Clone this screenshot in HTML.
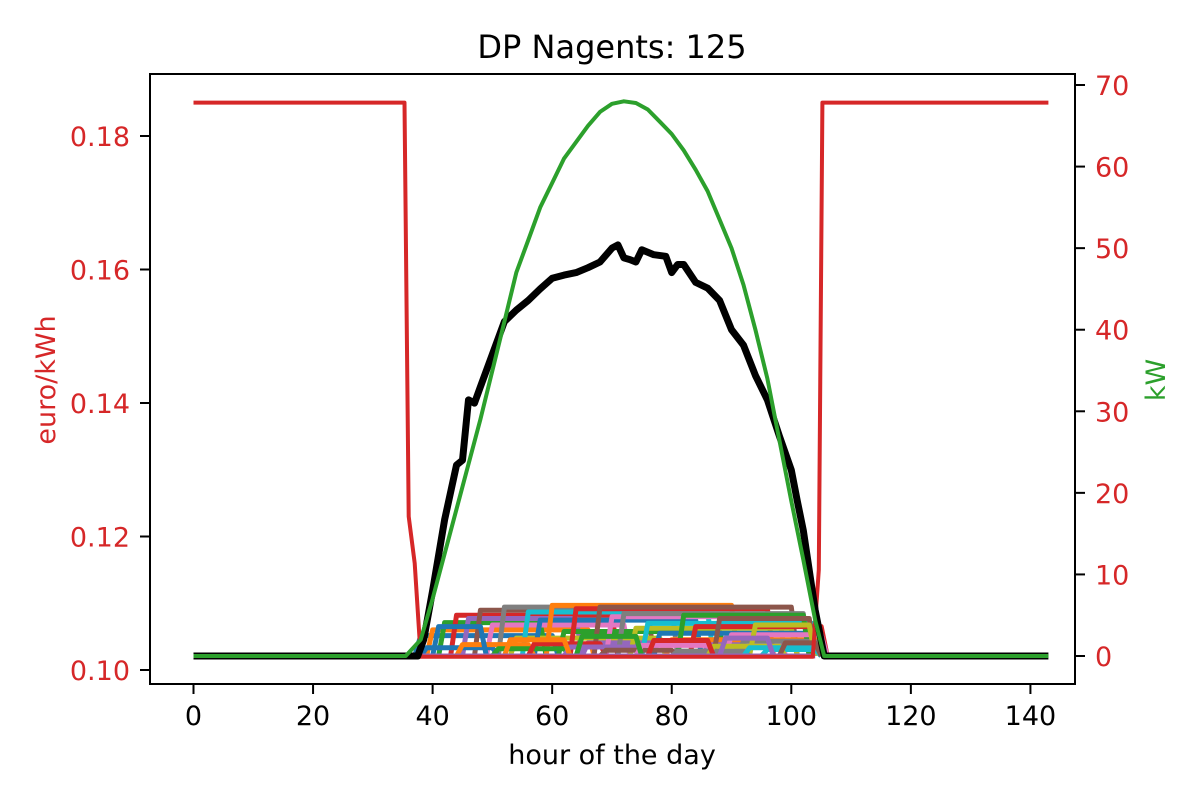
<!DOCTYPE html>
<html><head><meta charset="utf-8"><style>
body{margin:0;background:#fff}
svg text{font-family:"DejaVu Sans","Liberation Sans",sans-serif}
</style></head><body>
<svg id="c" width="1200" height="800" xmlns="http://www.w3.org/2000/svg">
<rect width="1200" height="800" fill="#fff"/>
<g id="plot"></g>
<g id="axes"></g>
<text x="612" y="58" font-size="32" text-anchor="middle">DP Nagents: 125</text>
<text x="612" y="764" font-size="27" text-anchor="middle">hour of the day</text>
<text transform="translate(55,380) rotate(-90)" font-size="27" text-anchor="middle" fill="#d62728">euro/kWh</text>
<text transform="translate(1165,380) rotate(-90)" font-size="27" text-anchor="middle" fill="#2ca02c">kW</text>
</svg>
<script>
const xTicks=[0,20,40,60,80,100,120,140];
const leftTicks=[0.10,0.12,0.14,0.16,0.18];
const rightTicks=[0,10,20,30,40,50,60,70];
const priceIdx=[0,35.3,36,37,38,103.6,104.6,105.2,143];
const priceVal=[0.185,0.185,0.123,0.116,0.102,0.102,0.115,0.185,0.185];
const genIdx=[0,35.5,38,40,44,48,50,52,54,56,58,60,62,64,66,68,70,72,74,76,78,80,82,84,86,88,90,92,94,96,98,100,102,104,105.5,143];
const genVal=[0,0,2,7,18,29,35,41,47,51,55,58,61,63,65,66.7,67.7,68,67.8,67,65.5,64,62,59.6,57,53.5,50,45.5,40,34,26.5,19,11.8,4.4,0,0];
const loadIdx=[0,37.5,38.5,40,42,44,45,46,47,48,50,52,54,56,58,60,62,64,66,68,70,71,72,73,74,75,77,79,80,81,82,84,86,88,90,92,94,96,98,100,101,102,104,105.5,143];
const loadVal=[0,0,2,8,16.7,23.4,24,31.4,31,33,37,41,42.4,43.6,45,46.3,46.7,47,47.6,48.3,50,50.4,48.8,48.6,48.3,49.8,49.2,49,47,48,48,45.8,45.1,43.6,40,38.1,34.4,31.4,27,22.8,19,15.4,5.6,0,0];
const agentStart=[38,40,42,44,46,48,50,52,54,56,58,60,62,64,66,68,70,72,74,76,78,80,82,84,86,88,90,92,94,96,39,45,51,57,63,69,75,81,87,93,41,53,65,77,89,99];
const agentEnd=[60,66,58,70,64,76,72,80,78,86,84,90,88,96,92,100,98,102,100,104,103,104,102,105,104,103,105,104,103,104,50,56,62,68,74,80,86,92,98,104,48,62,74,86,96,104];
const agentLevel=[2.5,3.2,4.1,5.0,4.6,5.6,3.8,6.0,2.2,5.4,4.4,6.2,3.0,5.8,1.6,6.0,4.8,5.2,3.4,4.0,2.8,2.0,5.0,3.6,1.2,4.6,2.6,1.8,3.8,0.8,1.0,1.4,0.9,1.5,1.1,0.7,1.3,0.6,1.2,1.0,3.6,2.0,2.4,1.9,2.2,1.6];
const colors=['#1f77b4','#ff7f0e','#2ca02c','#d62728','#9467bd','#8c564b','#e377c2','#7f7f7f','#bcbd22','#17becf'];
const L=150,R=1075,T=74,B=684;
const sx=i=>193.5+5.978*i;
const syL=v=>670-(v-0.10)/0.02*133.5;
const syR=v=>656-v*8.157;
const NS='http://www.w3.org/2000/svg';
const plot=document.getElementById('plot'),axes=document.getElementById('axes');
function mk(tag,attrs,parent){const e=document.createElementNS(NS,tag);for(const k in attrs)e.setAttribute(k,attrs[k]);parent.appendChild(e);return e;}
function poly(xs,ys,fy,color,w,name){
  const pts=xs.map((x,i)=>sx(x).toFixed(1)+','+fy(ys[i]).toFixed(1)).join(' ');
  const p=mk('polyline',{points:pts,fill:'none',stroke:color,'stroke-width':w,'stroke-linejoin':'round'},plot);
  
  
}
agentStart.forEach((s,k)=>{
  const e=agentEnd[k],v=agentLevel[k];
  poly([s-1,s,e,e+1],[0,v,v,0],syR,colors[k%10],5,'agent-line-'+k);
});
poly([38,104],[0,0],syR,'#9467bd',5,'agent-baseline');
poly(priceIdx,priceVal,syL,'#d62728',4,'price-line');
poly(loadIdx,loadVal,syR,'#000',7,'load-line');
poly(genIdx,genVal,syR,'#2ca02c',4,'generation-line');
mk('rect',{x:L,y:T,width:R-L,height:B-T,fill:'none',stroke:'#000','stroke-width':2},axes);
xTicks.forEach(t=>{const x=sx(t);
  const l=mk('line',{x1:x,x2:x,y1:B,y2:B+10,stroke:'#000','stroke-width':2},axes);
  
  const tx=mk('text',{x:x,y:B+41,'font-size':27,'text-anchor':'middle',fill:'#000'},axes);tx.textContent=t;
  });
leftTicks.forEach(t=>{const y=syL(t);
  mk('line',{x1:L-10,x2:L,y1:y,y2:y,stroke:'#000','stroke-width':2},axes);
  const tx=mk('text',{x:L-20,y:y+10,'font-size':27,'text-anchor':'end',fill:'#d62728'},axes);tx.textContent=t.toFixed(2);
  });
rightTicks.forEach(t=>{const y=syR(t);
  mk('line',{x1:R,x2:R+10,y1:y,y2:y,stroke:'#000','stroke-width':2},axes);
  const tx=mk('text',{x:R+20,y:y+10,'font-size':27,'text-anchor':'start',fill:'#d62728'},axes);tx.textContent=t;
  });
</script>
</body></html>
